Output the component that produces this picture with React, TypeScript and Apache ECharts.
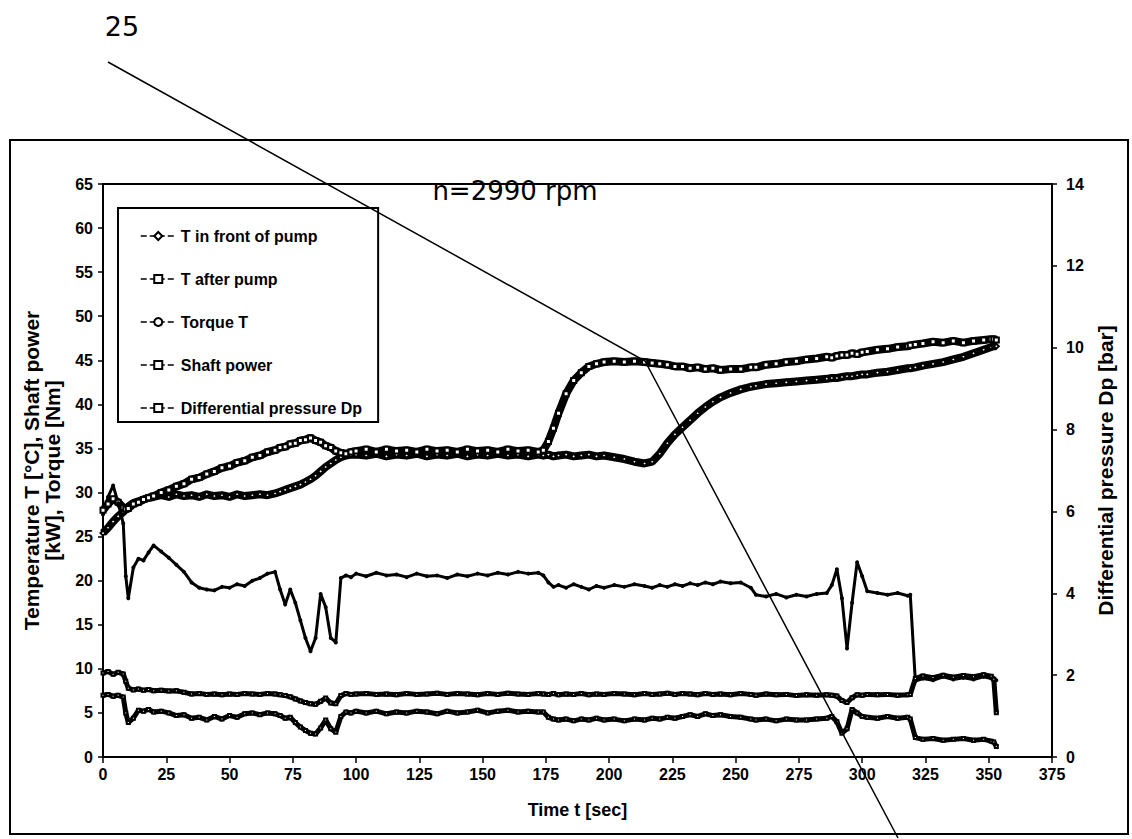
import React, { useEffect, useRef } from "react";
import * as echarts from "echarts";

const NARROW = "'Liberation Sans Narrow','Liberation Sans',Arial,sans-serif";

const seriesNames = ["T in front of pump", "T after pump", "Torque T", "Shaft power", "Differential pressure Dp"];

const time = [
  0, 2, 4, 6, 8, 9, 10, 12, 14, 16,
  18, 20, 23, 26, 29, 32, 35, 38, 41, 44,
  47, 50, 53, 56, 59, 62, 65, 68, 70, 72,
  74, 76, 78, 80, 82, 84, 86, 88, 90, 92,
  94, 96, 98, 100, 104, 108, 112, 116, 120, 124,
  128, 132, 136, 140, 144, 148, 152, 156, 160, 164,
  168, 172, 174, 176, 178, 180, 183, 186, 189, 192,
  195, 198, 202, 206, 210, 214, 217, 220, 223, 226,
  229, 232, 235, 238, 241, 244, 248, 252, 256, 258,
  262, 266, 270, 274, 278, 282, 286, 288, 290, 292,
  294, 296, 298, 300, 302, 306, 310, 314, 318, 319,
  321, 324, 328, 332, 336, 340, 344, 348, 351, 352,
  353,
];

const tFront = [
  25.4, 26.0, 26.7, 27.3, 27.8, 28.1, 28.4, 28.8, 29.0, 29.2,
  29.4, 29.5, 29.7, 29.5, 29.8, 29.6, 29.7, 29.5, 29.8, 29.6,
  29.7, 29.5, 29.8, 29.6, 29.7, 29.8, 29.7, 29.9, 30.1, 30.3,
  30.5, 30.7, 30.9, 31.2, 31.5, 31.9, 32.4, 32.9, 33.3, 33.7,
  34.0, 34.2, 34.3, 34.3, 34.2, 34.4, 34.1, 34.3, 34.2, 34.4,
  34.1, 34.3, 34.2, 34.4, 34.1, 34.3, 34.2, 34.4, 34.2, 34.3,
  34.1, 34.3, 34.2, 34.3, 34.1, 34.2, 34.3, 34.1, 34.2, 34.3,
  34.1, 34.2, 34.0, 33.8, 33.5, 33.3, 33.5, 34.4, 35.6, 36.6,
  37.4, 38.2, 39.0, 39.7, 40.3, 40.8, 41.3, 41.7, 42.0, 42.1,
  42.3, 42.4, 42.5, 42.6, 42.7, 42.8, 42.9, 43.0, 43.0, 43.1,
  43.2, 43.2, 43.3, 43.4, 43.4, 43.6, 43.7, 43.9, 44.1, 44.1,
  44.2, 44.4, 44.6, 44.8, 45.1, 45.4, 45.8, 46.2, 46.5, 46.6,
  46.6,
];

const tAfter = [
  28.0, 28.7, 29.3, 28.9, 28.3, 28.1, 28.2, 28.7, 28.9, 29.2,
  29.4, 29.6, 30.0, 30.3, 30.7, 31.0, 31.5, 31.7, 32.1, 32.4,
  32.8, 33.0, 33.4, 33.6, 34.0, 34.2, 34.6, 34.8, 35.1, 35.2,
  35.5, 35.6, 35.9, 36.0, 36.2, 35.9, 35.7, 35.3, 35.1, 34.7,
  34.5, 34.4, 34.6, 34.7, 34.9, 34.6, 34.9, 34.7, 34.8, 34.6,
  34.9, 34.7, 34.8, 34.6, 34.9, 34.7, 34.8, 34.6, 34.9, 34.7,
  34.8, 34.6, 34.8, 35.8, 37.3, 39.0, 41.2, 42.7, 43.6, 44.3,
  44.6, 44.8, 44.9, 44.8, 44.9, 44.8, 44.7, 44.6, 44.5, 44.3,
  44.3, 44.1, 44.2, 44.0, 44.1, 43.9, 44.0, 44.0, 44.2, 44.2,
  44.5, 44.6, 44.8, 44.9, 45.1, 45.2, 45.4, 45.3, 45.5, 45.6,
  45.6, 45.8, 45.7, 45.9, 46.0, 46.2, 46.3, 46.5, 46.6, 46.7,
  46.8, 46.9, 47.1, 47.0, 47.2, 47.0, 47.2, 47.3, 47.4, 47.4,
  47.3,
];

const torque = [
  27.5, 29.5, 30.8, 28.8, 26.5, 20.5, 18.0, 21.5, 22.5, 22.3,
  23.2, 24.0, 23.3, 22.6, 21.8, 21.0, 19.8, 19.2, 19.0, 18.9,
  19.3, 19.2, 19.6, 19.4, 20.0, 20.3, 20.8, 21.0, 19.0, 17.3,
  19.0, 17.5, 15.5, 13.5, 12.0, 13.5, 18.5, 17.0, 13.5, 13.0,
  20.3, 20.6, 20.4, 20.8, 20.5, 20.9, 20.6, 20.7, 20.4, 20.8,
  20.5, 20.6, 20.3, 20.7, 20.5, 20.8, 20.6, 20.9, 20.7, 21.0,
  20.8, 20.9, 20.6, 19.8, 19.3, 19.5, 19.2, 19.6, 19.3, 19.0,
  19.4, 19.2, 19.5, 19.3, 19.6, 19.4, 19.2, 19.5, 19.3, 19.6,
  19.4, 19.7, 19.5, 19.8, 19.6, 19.9, 19.7, 19.8, 19.2, 18.4,
  18.2, 18.5, 18.1, 18.4, 18.2, 18.5, 18.6, 19.5, 21.3, 18.0,
  12.3, 17.5, 22.1, 20.5, 18.8, 18.6, 18.4, 18.6, 18.3, 18.4,
  8.6, 8.9, 8.7, 9.1, 8.8, 9.0, 8.8, 9.1, 8.9, 8.8,
  8.7,
];

const shaftPower = [
  7.0, 7.1, 6.9, 7.0, 6.8, 5.0, 3.9, 4.4, 5.3, 5.2,
  5.4, 5.1, 5.2, 5.0, 4.7, 4.8, 4.4, 4.5, 4.2, 4.6,
  4.3, 4.7, 4.5, 4.9, 5.0, 4.8, 5.0, 4.9, 4.7, 4.4,
  4.5, 3.9, 3.4, 3.0, 2.7, 2.6, 3.3, 4.2, 3.2, 2.8,
  4.6, 5.1, 5.0, 5.2, 5.0, 5.2, 4.9, 5.1, 5.0, 5.2,
  5.1, 4.9, 5.2, 5.0, 5.1, 5.3, 5.0, 5.2, 5.3, 5.1,
  5.2, 5.1, 5.1, 4.5, 4.3, 4.2, 4.3, 4.1, 4.3, 4.2,
  4.4, 4.2, 4.3, 4.1, 4.3, 4.2, 4.4, 4.3, 4.5, 4.4,
  4.6, 4.8, 4.6, 4.9, 4.7, 4.8, 4.6, 4.5, 4.3, 4.2,
  4.3, 4.1, 4.3, 4.2, 4.2, 4.3, 4.4, 4.6, 4.0, 2.7,
  3.2, 5.4, 5.0, 4.6, 4.5, 4.4, 4.6, 4.4, 4.5, 4.3,
  2.2, 2.0, 2.1, 1.9, 2.0, 2.1, 1.9, 2.0, 1.8, 1.7,
  1.2,
];

const diffPressure = [
  2.05, 2.09, 2.02, 2.07, 2.03, 1.85, 1.68, 1.64, 1.66, 1.63,
  1.65, 1.62, 1.63, 1.61, 1.62, 1.58, 1.54, 1.55, 1.53, 1.54,
  1.52, 1.54, 1.53, 1.55, 1.54, 1.53, 1.55, 1.54, 1.52, 1.50,
  1.47, 1.42, 1.37, 1.33, 1.30, 1.29, 1.36, 1.44, 1.32, 1.30,
  1.50, 1.55, 1.53, 1.54, 1.55, 1.53, 1.54, 1.52, 1.55, 1.53,
  1.54, 1.56, 1.53, 1.55, 1.54, 1.52, 1.55, 1.53, 1.56, 1.54,
  1.53, 1.55, 1.54, 1.53, 1.55, 1.52, 1.54, 1.53, 1.55, 1.52,
  1.54, 1.53, 1.55, 1.54, 1.52, 1.55, 1.53, 1.54, 1.56, 1.53,
  1.55, 1.54, 1.52, 1.55, 1.53, 1.54, 1.52, 1.55, 1.53, 1.51,
  1.54, 1.52, 1.53, 1.50, 1.52, 1.51, 1.52, 1.51, 1.49, 1.38,
  1.33, 1.45, 1.52, 1.51, 1.53, 1.52, 1.53, 1.51, 1.52, 1.53,
  1.92, 1.98, 1.94, 2.00, 1.95, 1.99, 1.96, 2.01, 1.97, 1.90,
  1.08,
];

const pairs = (vals: number[]) => time.map((t, i) => [t, vals[i]]);

export default function App() {
  const ref = useRef<HTMLDivElement>(null);

  useEffect(() => {
    const chart = echarts.init(ref.current!, null, { renderer: "svg" });

    const lineSeries = (
      name: string,
      vals: number[],
      width: number,
      symbol: string,
      symbolSize: number,
      yAxisIndex = 0
    ) => ({
      name,
      type: "line",
      yAxisIndex,
      data: pairs(vals),
      showSymbol: true,
      showAllSymbol: true,
      symbol,
      symbolSize,
      lineStyle: { color: "#000", width },
      itemStyle: { color: "#000", borderColor: "#000", borderWidth: 1 },
      emphasis: { disabled: true },
    });

    const tickFont = { fontFamily: NARROW, fontWeight: "bold", fontSize: 16, color: "#000" };
    const nameFont = { fontFamily: NARROW, fontWeight: "bold", fontSize: 21, color: "#000", lineHeight: 21 };

    const option = {
      animation: false,
      backgroundColor: "#fff",
      textStyle: { fontFamily: NARROW, color: "#000" },
      grid: {
        left: 103,
        right: 80,
        top: 184,
        bottom: 82,
        show: true,
        borderColor: "#000",
        borderWidth: 2,
        backgroundColor: "transparent",
      },
      legend: {
        orient: "vertical",
        left: 118,
        top: 208,
        data: seriesNames,
        itemWidth: 35,
        itemHeight: 10,
        itemGap: 27,
        padding: [20, 16, 6, 22],
        backgroundColor: "#fff",
        borderColor: "#000",
        borderWidth: 2,
        borderRadius: 0,
        lineStyle: { width: 1.5, type: "dashed", color: "#000" },
        itemStyle: { color: "#000", borderColor: "#000", borderWidth: 1 },
        textStyle: { fontFamily: NARROW, fontWeight: "bold", fontSize: 16, color: "#000" },
        selectedMode: false,
      },
      xAxis: {
        type: "value",
        min: 0,
        max: 375,
        interval: 25,
        name: "Time t [sec]",
        nameLocation: "middle",
        nameGap: 42,
        nameTextStyle: { ...nameFont, fontSize: 18 },
        axisLine: { show: true, onZero: false, lineStyle: { color: "#000", width: 2 } },
        axisTick: { show: true, length: 6, lineStyle: { color: "#000", width: 1.5 } },
        axisLabel: { ...tickFont, margin: 9 },
        splitLine: { show: false },
      },
      yAxis: [
        {
          type: "value",
          min: 0,
          max: 65,
          interval: 5,
          position: "left",
          name: "Temperature T [°C], Shaft power\n[kW], Torque [Nm]",
          nameLocation: "middle",
          nameRotate: 90,
          nameGap: 40,
          nameTextStyle: nameFont,
          axisLine: { show: true, onZero: false, lineStyle: { color: "#000", width: 2 } },
          axisTick: { show: true, length: 5, lineStyle: { color: "#000", width: 1.5 } },
          axisLabel: { ...tickFont, margin: 10 },
          splitLine: { show: false },
        },
        {
          type: "value",
          min: 0,
          max: 14,
          interval: 2,
          position: "right",
          name: "Differential pressure Dp [bar]",
          nameLocation: "middle",
          nameRotate: 90,
          nameGap: 33,
          nameTextStyle: nameFont,
          axisLine: { show: true, onZero: false, lineStyle: { color: "#000", width: 2 } },
          axisTick: { show: true, length: 5, lineStyle: { color: "#000", width: 1.5 } },
          axisLabel: { ...tickFont, margin: 14 },
          splitLine: { show: false },
        },
      ],
      series: [
        lineSeries(seriesNames[0], tFront, 8, "emptyDiamond", 5),
        lineSeries(seriesNames[1], tAfter, 8, "emptyRect", 5),
        lineSeries(seriesNames[2], torque, 3, "emptyCircle", 2),
        lineSeries(seriesNames[3], shaftPower, 5, "emptyRect", 3),
        lineSeries(seriesNames[4], diffPressure, 5, "emptyRect", 3, 1),
      ],
      graphic: [
        {
          type: "rect",
          z: 100,
          silent: true,
          shape: { x: 10, y: 140, width: 1118, height: 694 },
          style: { fill: "none", stroke: "#000", lineWidth: 2 },
        },
        {
          type: "text",
          z: 100,
          silent: true,
          x: 122,
          y: 26,
          style: {
            text: "25",
            fontSize: 27,
            fontFamily: "'DejaVu Sans', sans-serif",
            fill: "#000",
            align: "center",
            verticalAlign: "middle",
            textAlign: "center",
            textVerticalAlign: "middle",
          },
        },
        {
          type: "text",
          z: 100,
          silent: true,
          x: 515,
          y: 191,
          style: {
            text: "n=2990 rpm",
            fontSize: 26,
            fontFamily: "'DejaVu Sans', sans-serif",
            fill: "#000",
            align: "center",
            verticalAlign: "middle",
            textAlign: "center",
            textVerticalAlign: "middle",
          },
        },
        {
          type: "polyline",
          z: 100,
          silent: true,
          shape: { points: [[108, 62], [645, 361], [898, 838]] },
          style: { stroke: "#000", lineWidth: 1.5, fill: null },
        },
      ],
    };

    chart.setOption(option as any);
    return () => chart.dispose();
  }, []);

  return (
    <div
      ref={ref}
      style={{ position: "fixed", left: 0, top: 0, width: 1132, height: 839, background: "#fff" }}
    />
  );
}
